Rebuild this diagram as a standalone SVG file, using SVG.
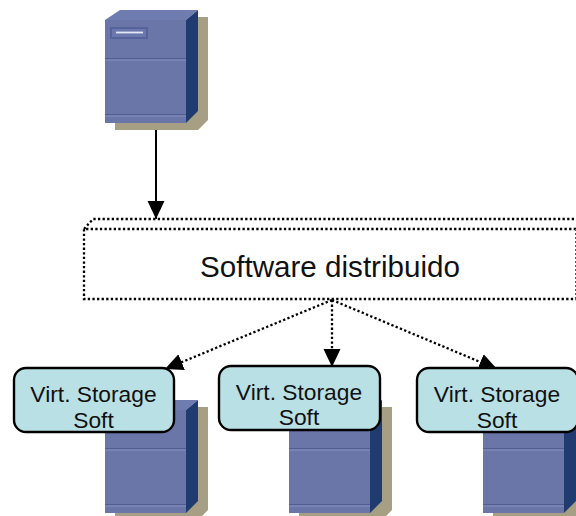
<svg xmlns="http://www.w3.org/2000/svg" xmlns:xlink="http://www.w3.org/1999/xlink" width="576" height="516" viewBox="0 0 576 516">
<style>
text{font-family:"Liberation Sans",Arial,sans-serif;fill:#111;text-anchor:middle}
.lbl{font-size:22.800px}
.box{fill:#b9e0e4;stroke:#000;stroke-width:2.400}
.dot{fill:none;stroke:#000;stroke-width:2.300;stroke-dasharray:2.300 2.300}
.shadow{fill:#a79f84}
.front{fill:#6a75a8}
.top{fill:#6f7cb0}
.side{fill:#1f3b70}
.rule{stroke:#8590bd;stroke-width:1.2;fill:none}
.ruled{stroke:#515c92;stroke-width:1.2;fill:none}
</style>
<defs>
<marker id="ah" markerWidth="18" markerHeight="18" refX="18" refY="9" orient="auto" markerUnits="userSpaceOnUse"><path d="M0 0.500L18 9L0 17.500Z" fill="#000"/></marker>
<g id="srv">
<path class="shadow" d="M190 17H208V120L198 130H115V118H190Z"/>
<path class="top" d="M105 20L120 10H198L186 20Z"/>
<rect class="front" x="105" y="20" width="81" height="103"/>
<path class="side" d="M186 20L198 10V111L186 123Z"/>
<path class="ruled" d="M105 58.500H186M105 114.500H186"/>
<path class="rule" d="M105 60H186M105 116H186"/>
</g>
</defs>
<g id="server-top">
<use xlink:href="#srv" href="#srv"/>
<rect x="111" y="28" width="36" height="10" fill="#6a78ae" stroke="#56629a" stroke-width="2"/>
<path d="M116 32.500H143" stroke="#e4e8f4" stroke-width="1.800"/>
</g>
<g id="server-1"><use xlink:href="#srv" href="#srv" y="390"/></g>
<g id="server-2"><use xlink:href="#srv" href="#srv" x="184" y="390"/></g>
<g id="server-3"><use xlink:href="#srv" href="#srv" x="378" y="390"/></g>
<g id="software">
<rect x="84" y="229" width="492" height="70" fill="#fff"/>
<path class="dot" d="M576 229H84V299H576M84 229L93 219H576"/>
<path d="M575.500 229V299" fill="none" stroke="#555" stroke-width="1" stroke-dasharray="2 2"/>
<text x="330" y="277" font-size="29.600">Software distribuido</text>
</g>
<g id="connectors">
<path d="M156 130V219" fill="none" stroke="#000" stroke-width="2" marker-end="url(#ah)"/>
<path class="dot" d="M332 300L165 369" marker-end="url(#ah)"/>
<path class="dot" d="M332 300V367" marker-end="url(#ah)"/>
<path class="dot" d="M332 300L497 369" marker-end="url(#ah)"/>
</g>
<g id="vss-1"><rect class="box" x="14" y="368" width="160" height="64" rx="12"/><text class="lbl" x="93.500" y="402">Virt. Storage</text><text class="lbl" x="93.500" y="428">Soft</text></g>
<g id="vss-2"><rect class="box" x="219" y="366" width="161" height="64" rx="12"/><text class="lbl" x="299" y="400">Virt. Storage</text><text class="lbl" x="299" y="425">Soft</text></g>
<g id="vss-3"><rect class="box" x="417" y="368" width="161" height="64" rx="12"/><text class="lbl" x="497" y="402">Virt. Storage</text><text class="lbl" x="497" y="428">Soft</text></g>
</svg>
